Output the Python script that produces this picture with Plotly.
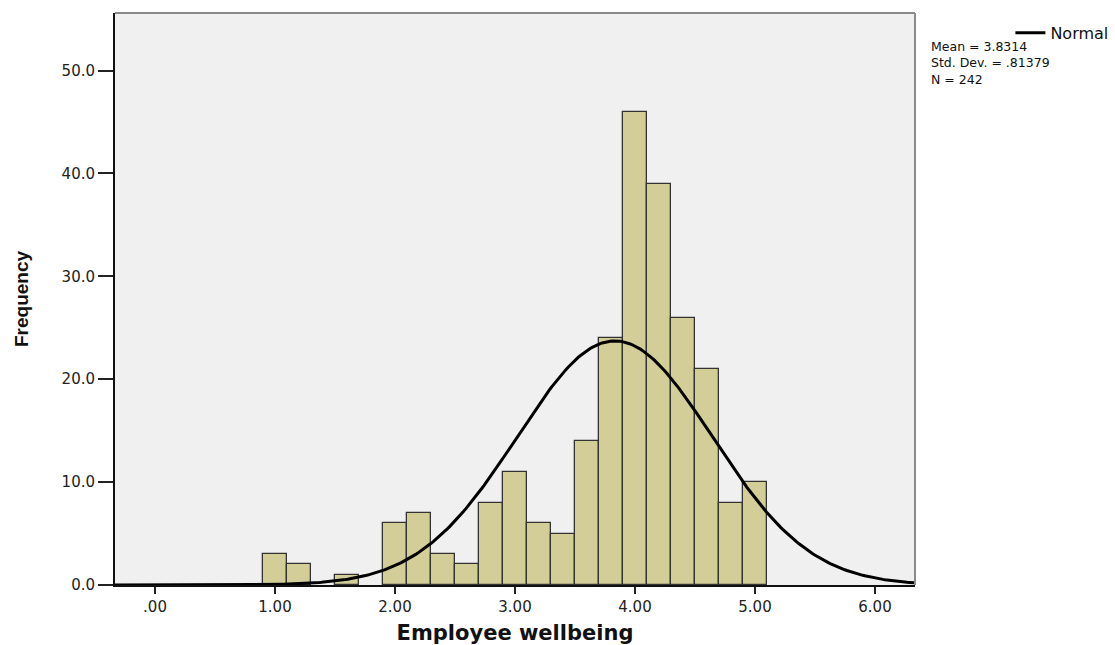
import numpy as np
import plotly.graph_objects as go

# ---- data ----
bin_centers = [1.0, 1.2, 1.6, 2.0, 2.2, 2.4, 2.6, 2.8, 3.0, 3.2, 3.4, 3.6, 3.8, 4.0, 4.2, 4.4, 4.6, 4.8, 5.0]
frequencies = [3, 2, 1, 6, 7, 3, 2, 8, 11, 6, 5, 14, 24, 46, 39, 26, 21, 8, 10]
bin_width = 0.2

mean = 3.8314
std_dev = 0.81379
n_obs = 242

x_tickvals = [0, 1, 2, 3, 4, 5, 6]
x_ticktext = [".00", "1.00", "2.00", "3.00", "4.00", "5.00", "6.00"]
y_tickvals = [0, 10, 20, 30, 40, 50]
y_ticktext = ["0.0", "10.0", "20.0", "30.0", "40.0", "50.0"]

x_range = [-1 / 3, 19 / 3]
y_range = [0, 55.6]

# normal curve scaled to histogram counts
curve_x = np.linspace(x_range[0], x_range[1], 400)
curve_y = n_obs * bin_width * np.exp(-0.5 * ((curve_x - mean) / std_dev) ** 2) / (std_dev * np.sqrt(2 * np.pi))

tick_font = dict(family="DejaVu Sans, Liberation Sans, Arial", size=15, color="#222222")

fig = go.Figure()
fig.add_trace(go.Bar(
    x=bin_centers, y=frequencies, width=bin_width,
    marker=dict(color="#D3CE97", line=dict(color="#333333", width=1.3)),
    showlegend=False,
))
fig.add_trace(go.Scatter(
    x=curve_x, y=curve_y, mode="lines",
    line=dict(color="#000000", width=3),
    name="Normal", showlegend=True,
))

fig.update_layout(
    width=1115, height=645,
    margin=dict(l=115, r=200, t=13, b=60, autoexpand=False),
    paper_bgcolor="#FFFFFF",
    plot_bgcolor="#F0F0F0",
    bargap=0,
    xaxis=dict(
        range=x_range, tickvals=x_tickvals, ticktext=x_ticktext,
        ticks="outside", ticklen=7, tickwidth=2, tickcolor="#222222",
        showgrid=False, zeroline=False, automargin=False,
        showline=True, linecolor="#111111", linewidth=2,
        tickfont=tick_font,
        title=dict(text="<b>Employee wellbeing</b>",
                   font=dict(family="DejaVu Sans, Liberation Sans, Arial", size=21, color="#111111"),
                   standoff=19),
    ),
    yaxis=dict(
        range=y_range, tickvals=y_tickvals, ticktext=y_ticktext,
        ticks="outside", ticklen=15, tickwidth=2, tickcolor="#222222",
        showgrid=False, zeroline=False, automargin=False,
        showline=True, linecolor="#111111", linewidth=2,
        tickfont=tick_font,
        title=dict(text="<b>Frequency</b>",
                   font=dict(family="Liberation Sans, Arial", size=19, color="#111111"),
                   standoff=28),
    ),
    legend=dict(
        x=1.248, y=0.995, xanchor="right", yanchor="top",
        font=dict(family="DejaVu Sans, Liberation Sans, Arial", size=16, color="#111111"),
        bgcolor="rgba(0,0,0,0)", itemwidth=30, tracegroupgap=0,
    ),
    shapes=[
        dict(type="line", xref="paper", yref="paper", x0=0, x1=1, y0=1, y1=1,
             line=dict(color="#8a8a8a", width=2)),
        dict(type="line", xref="paper", yref="paper", x0=1, x1=1, y0=0, y1=1,
             line=dict(color="#8a8a8a", width=2)),
    ],
)

sd_text = f"{std_dev:.5f}".lstrip("0")
stats_text = f"Mean = {mean:.4f}<br>Std. Dev. = {sd_text}<br>N = {n_obs}"
fig.add_annotation(
    text=stats_text, xref="paper", yref="paper",
    x=1.0175, y=(585 - 37) / 572, xanchor="left", yanchor="top", align="left",
    showarrow=False,
    font=dict(family="DejaVu Sans, Liberation Sans, Arial", size=12.5, color="#111111"),
)

fig.write_html("out.html", post_script="document.body.style.margin='0';",
               config={"displayModeBar": False})
